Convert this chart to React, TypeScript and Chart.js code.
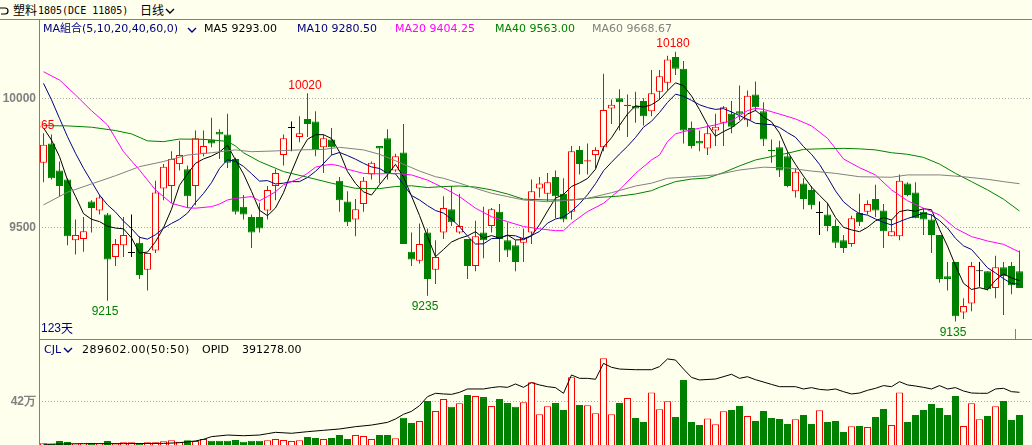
import React, { useEffect, useRef } from 'react';
import { Chart, registerables } from 'chart.js';

Chart.register(...registerables);

const BG = '#FFFFEE';
const RED = '#FF0000';
const GREEN = '#008000';
const NAVY = '#000080';
const MAGENTA = '#FF00FF';
const GRAY = '#808080';
const GRID = '#A8A8A8';

// ---- price candles (daily) ----
const opens = [
  9750, 9825, 9720, 9685, 9450, 9455, 9600, 9565, 9550, 9385,
  9430, 9400, 9440, 9335, 9410, 9650, 9660, 9745, 9725, 9660,
  9785, 9840, 9870, 9860, 9765, 9580, 9540, 9540, 9565, 9660,
  9780, 9885, 9850, 9920, 9910, 9810, 9840, 9680, 9600, 9530,
  9590, 9705, 9815, 9845, 9720, 9790, 9405, 9370, 9480, 9335,
  9480, 9570, 9480, 9455, 9350, 9480, 9505, 9560, 9450, 9430,
  9440, 9480, 9650, 9630, 9695, 9630, 9560, 9800, 9755, 9780,
  9810, 9960, 10000, 9970, 9970, 9990, 9950, 10025, 10060, 10160,
  10115, 9885, 9835, 9805, 9875, 9905, 9940, 9950, 9915, 10015,
  9950, 9800, 9810, 9775, 9640, 9670, 9645, 9555, 9550, 9505,
  9450, 9435, 9555, 9560, 9610, 9565, 9465, 9465, 9670, 9635,
  9560, 9530, 9470, 9310, 9365, 9170, 9205, 9330, 9330, 9265,
  9345, 9350, 9330,
];
const highs = [
  9865, 9860, 9755, 9690, 9530, 9540, 9605, 9625, 9555, 9455,
  9540, 9550, 9465, 9400, 9680, 9745, 9795, 9835, 9740, 9875,
  9875, 9925, 9880, 9940, 9770, 9625, 9550, 9595, 9660, 9725,
  9860, 9910, 9930, 10020, 9950, 9860, 9885, 9695, 9640, 9610,
  9695, 9755, 9815, 9880, 9785, 9900, 9480, 9515, 9495, 9450,
  9620, 9660, 9630, 9455, 9525, 9580, 9575, 9590, 9520, 9450,
  9495, 9685, 9695, 9710, 9720, 9690, 9815, 9815, 9825, 9810,
  10095, 9995, 10035, 10015, 10025, 10000, 10110, 10110, 10165, 10180,
  10145, 9910, 9875, 9895, 9940, 9970, 9990, 10050, 10030, 10065,
  9985, 9840, 9835, 9795, 9730, 9690, 9660, 9600, 9595, 9530,
  9470, 9545, 9630, 9605, 9665, 9590, 9530, 9705, 9675, 9675,
  9575, 9550, 9470, 9365, 9365, 9225, 9365, 9365, 9330, 9390,
  9365, 9365, 9410,
];
const lows = [
  9675, 9685, 9620, 9430, 9395, 9405, 9480, 9550, 9215, 9350,
  9385, 9385, 9300, 9255, 9400, 9605, 9595, 9720, 9575, 9585,
  9775, 9810, 9765, 9730, 9550, 9530, 9420, 9480, 9530, 9605,
  9740, 9795, 9830, 9850, 9775, 9710, 9780, 9560, 9505, 9465,
  9560, 9685, 9670, 9685, 9715, 9435, 9350, 9360, 9235, 9280,
  9455, 9505, 9475, 9300, 9330, 9380, 9480, 9365, 9385, 9330,
  9365, 9435, 9615, 9600, 9535, 9520, 9530, 9705, 9705, 9730,
  9795, 9900, 9875, 9850, 9905, 9895, 9930, 9995, 10030, 10090,
  9825, 9805, 9795, 9780, 9815, 9815, 9865, 9915, 9890, 9950,
  9815, 9750, 9695, 9655, 9615, 9570, 9570, 9470, 9485, 9420,
  9400, 9425, 9505, 9550, 9540, 9420, 9465, 9450, 9620, 9535,
  9470, 9400, 9285, 9255, 9135, 9145, 9175, 9270, 9255, 9225,
  9160, 9240, 9265,
];
const closes = [
  9820, 9690, 9660, 9465, 9470, 9485, 9575, 9615, 9375, 9435,
  9470, 9400, 9315, 9400, 9635, 9735, 9765, 9780, 9620, 9845,
  9815, 9825, 9860, 9750, 9560, 9550, 9480, 9495, 9645, 9710,
  9845, 9885, 9865, 9900, 9800, 9845, 9810, 9605, 9520, 9570,
  9680, 9750, 9805, 9710, 9775, 9435, 9375, 9435, 9300, 9385,
  9575, 9520, 9505, 9350, 9465, 9450, 9570, 9455, 9410, 9365,
  9460, 9640, 9670, 9675, 9620, 9530, 9795, 9745, 9760, 9800,
  9955, 9975, 9985, 9975, 9960, 9930, 10020, 10085, 10150, 10115,
  9875, 9815, 9825, 9865, 9890, 9965, 9890, 9940, 10010, 9965,
  9840, 9795, 9720, 9660, 9715, 9610, 9585, 9555, 9505, 9440,
  9420, 9535, 9520, 9590, 9565, 9485, 9485, 9680, 9625, 9535,
  9530, 9470, 9300, 9300, 9155, 9195, 9350, 9330, 9260, 9345,
  9310, 9275, 9265,
];

// ---- moving averages ----
const ma5 = [
  9885, 9838, 9774, 9683, 9620, 9553, 9531, 9522, 9504, 9497,
  9494, 9459, 9400, 9404, 9444, 9498, 9570, 9663, 9707, 9748,
  9765, 9776, 9792, 9818, 9761, 9707, 9639, 9566, 9545, 9575,
  9634, 9715, 9789, 9841, 9859, 9859, 9844, 9792, 9716, 9670,
  9637, 9625, 9665, 9703, 9744, 9695, 9621, 9546, 9464, 9386,
  9414, 9443, 9457, 9467, 9483, 9458, 9468, 9458, 9470, 9451,
  9452, 9467, 9510, 9563, 9613, 9627, 9658, 9672, 9689, 9725,
  9811, 9847, 9895, 9939, 9971, 9966, 9975, 9995, 10029, 10060,
  10049, 10009, 9956, 9898, 9853, 9871, 9886, 9909, 9939, 9953,
  9928, 9909, 9865, 9794, 9744, 9698, 9656, 9624, 9593, 9538,
  9500, 9490, 9483, 9500, 9525, 9538, 9528, 9561, 9567, 9562,
  9572, 9568, 9492, 9427, 9351, 9283, 9259, 9266, 9258, 9295,
  9319, 9304, 9293,
];
const ma10 = [
  10058, 9994, 9922, 9851, 9787, 9729, 9677, 9625, 9587, 9559,
  9524, 9495, 9461, 9454, 9471, 9496, 9515, 9531, 9555, 9596,
  9631, 9673, 9728, 9762, 9755, 9736, 9708, 9679, 9681, 9668,
  9671, 9677, 9677, 9693, 9717, 9747, 9780, 9790, 9778, 9764,
  9748, 9734, 9728, 9709, 9707, 9666, 9623, 9606, 9584, 9565,
  9555, 9532, 9502, 9466, 9435, 9436, 9456, 9458, 9469, 9467,
  9455, 9468, 9484, 9516, 9532, 9540, 9562, 9591, 9626, 9669,
  9719, 9752, 9784, 9814, 9848, 9888, 9911, 9945, 9984, 10016,
  10008, 9992, 9975, 9964, 9957, 9960, 9947, 9933, 9919, 9903,
  9900, 9898, 9887, 9867, 9849, 9813, 9783, 9744, 9694, 9641,
  9599, 9573, 9553, 9547, 9532, 9519, 9509, 9522, 9534, 9544,
  9555, 9548, 9526, 9497, 9457, 9428, 9414, 9379, 9343, 9323,
  9301, 9282, 9280,
];
const ma20 = [
  [0, 10103], [2, 10071], [4, 10013], [6, 9952], [8, 9897], [10, 9793], [12, 9722], [13, 9683],
  [14, 9645], [16, 9593], [18, 9576], [19, 9574], [21, 9580], [22, 9590], [23, 9606], [24, 9612],
  [26, 9619], [27, 9603], [28, 9619], [29, 9638], [30, 9664], [31, 9677], [32, 9690], [33, 9709],
  [34, 9733], [35, 9740], [36, 9744], [37, 9738], [38, 9725], [39, 9717], [40, 9709], [42, 9707],
  [44, 9709], [46, 9703], [48, 9683], [49, 9668], [50, 9653], [52, 9619], [54, 9574], [56, 9541],
  [58, 9522], [60, 9503], [62, 9494], [64, 9487], [65, 9487], [66, 9516], [68, 9561], [70, 9593],
  [72, 9645], [74, 9709], [76, 9761], [77, 9780], [78, 9832], [79, 9862], [80, 9871], [82, 9884],
  [84, 9897], [86, 9913], [88, 9952], [89, 9961], [90, 9957], [92, 9939], [94, 9920], [96, 9893],
  [98, 9845], [100, 9765], [102, 9731], [104, 9703], [106, 9645], [108, 9603], [110, 9574],
  [112, 9548], [114, 9496], [116, 9464], [118, 9447], [120, 9434], [122, 9404],
];
const ma40 = [
  [0, 9894], [3, 9893], [6, 9888], [9, 9875], [11, 9862], [13, 9835], [15, 9832], [17, 9842],
  [20, 9841], [23, 9833], [24, 9815], [25, 9789], [27, 9755], [30, 9716], [33, 9694], [36, 9671],
  [39, 9651], [42, 9650], [44, 9658], [46, 9661], [48, 9654], [50, 9658], [52, 9660], [54, 9656],
  [56, 9645], [58, 9629], [60, 9609], [63, 9606], [66, 9606], [69, 9615], [72, 9621], [74, 9629],
  [76, 9642], [77, 9655], [79, 9677], [81, 9687], [83, 9691], [85, 9712], [87, 9738], [89, 9761],
  [91, 9774], [93, 9787], [95, 9802], [97, 9804], [100, 9806], [102, 9804], [104, 9800],
  [106, 9789], [108, 9783], [110, 9771], [112, 9745], [114, 9709], [116, 9677], [118, 9645],
  [120, 9609], [122, 9563],
];
const ma60 = [
  [0, 9587], [3, 9636], [6, 9668], [9, 9700], [12, 9735], [15, 9755], [18, 9780], [21, 9789],
  [24, 9800], [26, 9793], [29, 9796], [32, 9800], [35, 9802], [37, 9810], [40, 9800], [42, 9783],
  [44, 9758], [47, 9718], [49, 9696], [50, 9690], [52, 9671], [54, 9651], [56, 9632], [58, 9619],
  [60, 9606], [63, 9599], [66, 9606], [68, 9612], [71, 9634], [74, 9660], [76, 9671], [78, 9690],
  [81, 9696], [84, 9703], [87, 9722], [90, 9733], [93, 9730], [96, 9718], [99, 9709],
  [102, 9696], [106, 9694], [108, 9703], [112, 9703], [115, 9696], [118, 9686], [120, 9677],
  [122, 9669],
];

// ---- volume (CJL) and open interest (OPID) ----
const volumes = [
  16000, 10000, 39000, 29000, 13000, 13000, 16000, 13000, 39000, 10000,
  26000, 26000, 13000, 26000, 26000, 35000, 45000, 32000, 45000, 39000,
  58000, 42000, 42000, 42000, 48000, 32000, 42000, 42000, 45000, 58000,
  48000, 39000, 45000, 77000, 68000, 58000, 68000, 97000, 58000, 97000,
  87000, 58000, 97000, 97000, 64000, 264000, 212000, 232000, 425000, 328000,
  444000, 370000, 402000, 483000, 473000, 463000, 377000, 444000, 405000, 370000,
  412000, 605000, 296000, 373000, 405000, 338000, 653000, 386000, 383000, 306000,
  837000, 296000, 405000, 454000, 261000, 222000, 508000, 344000, 422000, 270000,
  627000, 222000, 193000, 257000, 200000, 325000, 338000, 377000, 280000, 232000,
  328000, 261000, 251000, 203000, 248000, 290000, 203000, 335000, 222000, 232000,
  126000, 180000, 183000, 174000, 270000, 348000, 193000, 508000, 222000, 290000,
  338000, 396000, 357000, 290000, 473000, 183000, 402000, 248000, 280000, 373000,
  425000, 241000, 289602,
];
const opid = [
  [0, 5000], [5, 10000], [10, 10000], [15, 12000], [17, 17000], [19, 30000], [20, 42000],
  [21, 62000], [23, 74000], [25, 69000], [27, 74000], [28, 84000], [29, 94000], [31, 87000],
  [33, 99000], [35, 109000], [37, 119000], [39, 136000], [41, 148000], [43, 168000],
  [44, 193000], [45, 228000], [46, 250000], [47, 292000], [48, 359000], [49, 384000],
  [50, 379000], [51, 376000], [52, 391000], [53, 416000], [55, 416000], [56, 426000],
  [57, 433000], [58, 428000], [59, 453000], [60, 428000], [61, 463000], [62, 446000],
  [63, 433000], [64, 426000], [65, 384000], [66, 520000], [67, 495000], [68, 495000],
  [69, 488000], [70, 606000], [71, 577000], [72, 564000], [74, 559000], [76, 559000],
  [77, 582000], [78, 639000], [79, 631000], [80, 564000], [81, 502000], [82, 483000],
  [84, 490000], [86, 525000], [87, 495000], [88, 507000], [89, 485000], [91, 450000],
  [92, 433000], [94, 433000], [95, 416000], [96, 426000], [97, 413000], [98, 408000],
  [99, 416000], [100, 396000], [101, 379000], [102, 386000], [103, 406000], [104, 421000],
  [105, 441000], [106, 433000], [107, 470000], [108, 446000], [109, 438000], [110, 428000],
  [111, 416000], [112, 441000], [113, 416000], [114, 426000], [115, 401000], [116, 386000],
  [117, 384000], [118, 384000], [119, 416000], [120, 421000], [121, 396000], [122, 391278],
];

// ---- axis ticks and marks ----
const priceTicks = [9500, 10000];
const priceTickLabels = ['9500', '10000'];
const volTicks = [420000];
const volTickLabels = ['42万'];
const markHighIdx = [0, 33, 79];
const markLowIdx = [8, 48, 114];

const N = opens.length;
const X_MIN = -0.5625;
const X_MAX = X_MIN + 993 / 8;
const idx = opens.map((_, i) => i);
const isDoji = (i: number) => opens[i] === closes[i];
const isUp = (i: number) => closes[i] > opens[i];
const candleColor = (i: number) => (isDoji(i) ? '#000000' : isUp(i) ? RED : GREEN);

const LABEL_FONT = '12px "Liberation Sans", Arial, sans-serif';

const markPlugin = {
  id: 'marks',
  afterDatasetsDraw(chart: any) {
    const { ctx, chartArea, scales } = chart;
    const x = scales.x;
    const y = scales.y;
    ctx.save();
    ctx.beginPath();
    ctx.rect(chartArea.left + 1, chartArea.top, chartArea.right - chartArea.left, chartArea.bottom - chartArea.top);
    ctx.clip();
    ctx.font = LABEL_FONT;
    ctx.textAlign = 'center';
    ctx.textBaseline = 'alphabetic';
    markHighIdx.forEach((i) => {
      ctx.fillStyle = RED;
      ctx.fillText(String(highs[i]), x.getPixelForValue(i) - 2.5, y.getPixelForValue(highs[i]) - 4.5);
    });
    markLowIdx.forEach((i) => {
      ctx.fillStyle = GREEN;
      ctx.fillText(String(lows[i]), x.getPixelForValue(i) - 2.5, y.getPixelForValue(lows[i]) + 14.5);
    });
    ctx.restore();
  },
};

const maLine = (label: string, pts: number[][], color: string) => ({
  type: 'line',
  label,
  data: pts.map(([x, v]) => ({ x, y: v })),
  borderColor: color,
  borderWidth: 1,
  pointRadius: 0,
  tension: 0,
  order: 0,
});

const yAxisCommon = (ticks: number[], labels: string[]) => ({
  position: 'left',
  afterBuildTicks: (s: any) => {
    s.ticks = ticks.map((v) => ({ value: v }));
  },
  afterFit: (s: any) => {
    s.width = 39;
    s.paddingTop = 0;
    s.paddingBottom = 0;
  },
  ticks: {
    color: GRAY,
    padding: 3,
    font: { family: '"Liberation Sans", Arial, sans-serif', size: 12, weight: 'bold' },
    callback: (v: number) => labels[ticks.indexOf(v)] ?? '',
  },
  grid: { color: GRID, drawTicks: false, lineWidth: 1 },
  border: { display: false, dash: [1, 2] },
});

const Chevron = ({ left, top, color }: { left: number; top: number; color: string }) => (
  <svg style={{ position: 'absolute', left, top }} width={10} height={7}>
    <polyline points="1,1 5,5 9,1" fill="none" stroke={color} strokeWidth={1.4} />
  </svg>
);

const txt = (left: number, top: number, color: string, size = 11, extra: any = {}) => ({
  position: 'absolute' as const,
  left,
  top,
  color,
  fontSize: size,
  lineHeight: 1,
  whiteSpace: 'nowrap' as const,
  fontFamily: '"DejaVu Sans", "Noto Sans CJK SC", "Noto Sans CJK TC", sans-serif',
  ...extra,
});

export default function App() {
  const priceRef = useRef<HTMLCanvasElement>(null);
  const volRef = useRef<HTMLCanvasElement>(null);

  useEffect(() => {
    const price = new Chart(priceRef.current as HTMLCanvasElement, {
      type: 'bar',
      data: {
        datasets: [
          maLine('MA60', ma60, GRAY),
          maLine('MA40', ma40, GREEN),
          maLine('MA20', ma20, MAGENTA),
          maLine('MA10', ma10.map((v, i) => [i, v]), NAVY),
          maLine('MA5', ma5.map((v, i) => [i, v]), '#000000'),
          {
            type: 'bar',
            label: 'body',
            data: idx.map((i) => ({ x: i, y: [opens[i], closes[i]] })),
            backgroundColor: idx.map((i) => (isUp(i) || isDoji(i) ? BG : GREEN)),
            borderColor: idx.map(candleColor),
            borderWidth: 1,
            borderSkipped: false,
            barThickness: 7,
            minBarLength: 1,
            inflateAmount: 0,
            grouped: false,
            order: 1,
          },
          {
            type: 'bar',
            label: 'wick',
            data: idx.map((i) => ({ x: i, y: [lows[i], highs[i]] })),
            backgroundColor: idx.map(candleColor),
            borderWidth: 0,
            barThickness: 1,
            inflateAmount: 0,
            grouped: false,
            order: 2,
          },
        ] as any,
      },
      options: {
        responsive: false,
        animation: false,
        devicePixelRatio: 1,
        events: [],
        layout: { padding: 0 },
        plugins: { legend: { display: false }, tooltip: { enabled: false } },
        scales: {
          x: { type: 'linear', display: false, min: X_MIN, max: X_MAX, offset: false },
          y: { type: 'linear', min: 9067, max: 10303.5, ...yAxisCommon(priceTicks, priceTickLabels) },
        } as any,
      },
      plugins: [markPlugin],
    });

    const vol = new Chart(volRef.current as HTMLCanvasElement, {
      type: 'bar',
      data: {
        datasets: [
          {
            type: 'line',
            label: 'OPID',
            data: opid.map(([x, v]) => ({ x, y: v })),
            borderColor: '#000000',
            borderWidth: 1,
            pointRadius: 0,
            tension: 0,
            yAxisID: 'y2',
            order: 0,
          },
          {
            type: 'bar',
            label: 'CJL',
            data: idx.map((i) => ({ x: i, y: volumes[i] })),
            backgroundColor: idx.map((i) => (isUp(i) || isDoji(i) ? BG : GREEN)),
            borderColor: idx.map((i) => (isUp(i) || isDoji(i) ? RED : GREEN)),
            borderWidth: 1,
            borderSkipped: 'start',
            barThickness: 7,
            inflateAmount: 0,
            grouped: false,
            order: 1,
          },
        ] as any,
      },
      options: {
        responsive: false,
        animation: false,
        devicePixelRatio: 1,
        events: [],
        layout: { padding: 0 },
        plugins: { legend: { display: false }, tooltip: { enabled: false } },
        scales: {
          x: { type: 'linear', display: false, min: X_MIN, max: X_MAX, offset: false },
          y: { type: 'linear', min: 0, max: 1023400, ...yAxisCommon(volTicks, volTickLabels) },
          y2: { type: 'linear', display: false, min: 0, max: 787050 },
        } as any,
      },
    });

    return () => {
      price.destroy();
      vol.destroy();
    };
  }, []);

  const lineStyle = (left: number, top: number, width: number, height: number) => ({
    position: 'absolute' as const,
    left,
    top,
    width,
    height,
    background: GRAY,
  });

  return (
    <div
      style={{
        position: 'absolute',
        left: 0,
        top: 0,
        width: 1032,
        height: 445,
        background: BG,
        overflow: 'hidden',
      }}
    >
      <canvas ref={priceRef} width={1032} height={319} style={{ position: 'absolute', left: 0, top: 20 }} />
      <canvas ref={volRef} width={1032} height={106} style={{ position: 'absolute', left: 0, top: 339 }} />

      {/* frame lines */}
      <div style={lineStyle(0, 19, 1032, 1)} />
      <div style={lineStyle(39, 19, 1, 426)} />
      <div style={lineStyle(39, 339, 993, 1)} />
      <div style={lineStyle(1015, 329, 1, 10)} />

      {/* title row */}
      <svg style={{ position: 'absolute', left: 0, top: 6 }} width={10} height={10}>
        <path d="M0,2 L5,2 Q8,2 8,5 Q8,8 5,8 L1,8" fill="none" stroke="#000" strokeWidth={1.2} />
      </svg>
      <span style={txt(13, 4, '#000', 12, { fontFamily: '"Noto Sans CJK SC", sans-serif' })}>塑料</span>
      <span style={txt(38, 6, '#000', 10, { fontFamily: '"DejaVu Sans Mono", monospace' })}>1805(DCE 11805)</span>
      <span style={txt(140, 4, '#000', 12, { fontFamily: '"Noto Sans CJK SC", sans-serif' })}>日线</span>
      <Chevron left={165} top={8} color="#000" />

      {/* MA legend */}
      <span style={txt(43, 23, NAVY)}>MA組合(5,10,20,40,60,0)</span>
      <Chevron left={187} top={27} color={NAVY} />
      <span style={txt(204, 23, '#000')}>MA5 9293.00</span>
      <span style={txt(297, 23, NAVY)}>MA10 9280.50</span>
      <span style={txt(395, 23, MAGENTA)}>MA20 9404.25</span>
      <span style={txt(495, 23, GREEN)}>MA40 9563.00</span>
      <span style={txt(592, 23, GRAY)}>MA60 9668.67</span>

      {/* days counter */}
      <span style={txt(41, 322, NAVY, 12, { fontFamily: '"Liberation Sans", Arial, sans-serif' })}>123</span>
      <span style={txt(61, 322, NAVY, 12, { fontFamily: '"Noto Sans CJK SC", sans-serif' })}>天</span>

      {/* volume legend */}
      <span style={txt(44, 344, NAVY)}>CJL</span>
      <Chevron left={63} top={347} color={NAVY} />
      <span style={txt(82, 344, '#000', 11, { letterSpacing: '0.5px' })}>
        {volumes[N - 1].toFixed(2)}(50:50)
      </span>
      <span style={txt(202, 344, '#000')}>OPID</span>
      <span style={txt(242, 344, '#000')}>{opid[opid.length - 1][1].toFixed(2)}</span>
    </div>
  );
}
